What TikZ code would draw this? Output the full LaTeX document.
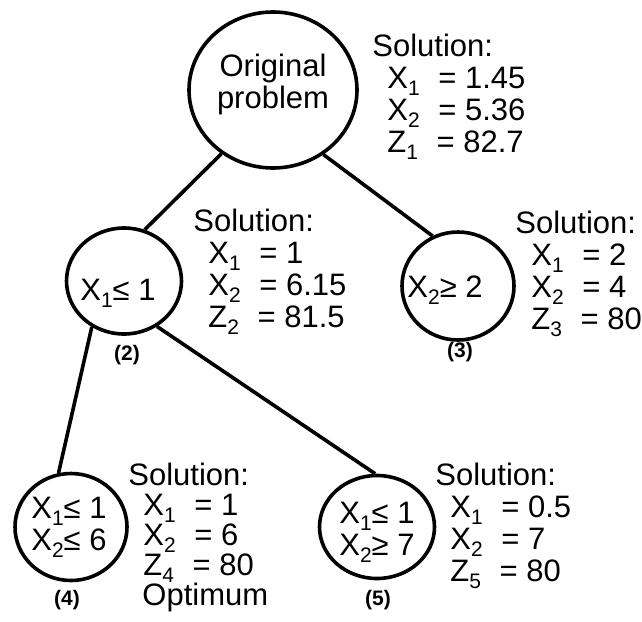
\documentclass[tikz,border=0pt]{standalone}
\usepackage{fontspec}
\setmainfont{Liberation Sans}
\usetikzlibrary{shapes.geometric}
\newcommand{\sbx}[1]{\raisebox{-3.5pt}{\fontsize{10.5}{10.5}\selectfont #1}}
\newcommand{\eqx}{\hspace{0.6em}=\ }
\begin{document}
\begin{tikzpicture}[x=0.5pt,y=-0.5pt,
  bubble/.style={draw,ellipse,line width=1.8pt,inner sep=0pt},
  txt/.style={font=\fontsize{15.5}{16}\selectfont,inner sep=0pt,align=center,anchor=base},
  sol/.style={font=\fontsize{15.5}{16}\selectfont,inner sep=0pt,align=left,anchor=base west},
  tag/.style={font=\fontsize{10.5}{10.5}\selectfont\bfseries,inner sep=0pt},
  edge/.style={line width=1.8pt}]
\useasboundingbox (0,0) rectangle (642,621);

% circles
\node[bubble,minimum width=84pt,minimum height=78pt] (root) at (273,90) {};
\node[bubble,minimum width=57.5pt,minimum height=53pt] (n2) at (124,281) {};
\node[bubble,minimum width=56pt,minimum height=54pt] (n3) at (458,286) {};
\node[bubble,minimum width=56pt,minimum height=53.5pt] (n4) at (71,527) {};
\node[bubble,minimum width=57.5pt,minimum height=51.5pt] (n5) at (377,527) {};

% circle texts (base = baseline of last line)
\node[txt] (roottxt) at (273,108) {Original\\problem};
\node[txt] (n2txt) at (118,300) {X\sbx{1}≤ 1};
\node[txt] (n3txt) at (445,297) {X\sbx{2}≥ 2};
\node[txt] (n4txt) at (69,550) {X\sbx{1}≤ 1\\X\sbx{2}≤ 6};
\node[txt] (n5txt) at (377,555) {X\sbx{1}≤ 1\\X\sbx{2}≥ 7};

% tags
\node[tag] (t2) at (127,355) {(2)};
\node[tag] (t3) at (460,352) {(3)};
\node[tag] (t4) at (67,600) {(4)};
\node[tag] (t5) at (378,600) {(5)};

% connectors
\draw[edge] (root.231) -- (n2.68);
\draw[edge] (root.308) -- (n3.117);
\draw[edge] (n2.235) -- (n4.103);
\draw[edge] (n2.306) -- (n5.92);

% solutions (base = baseline of last line)
\node[sol] (s1) at (372,152) {Solution:\\\hspace*{7.5pt}X\sbx{1}\eqx 1.45\\\hspace*{7.5pt}X\sbx{2}\eqx 5.36\\\hspace*{7.5pt}Z\sbx{1}\eqx 82.7};
\node[sol] (s2) at (193,327) {Solution:\\\hspace*{7.5pt}X\sbx{1}\eqx 1\\\hspace*{7.5pt}X\sbx{2}\eqx 6.15\\\hspace*{7.5pt}Z\sbx{2}\eqx 81.5};
\node[sol] (s3) at (515,329) {Solution:\\\hspace*{8pt}X\sbx{1}\eqx 2\\\hspace*{8pt}X\sbx{2}\eqx 4\\\hspace*{8pt}Z\sbx{3}\eqx 80};
\node[sol,font=\fontsize{15.5}{15}\selectfont] (s4) at (128,605) {Solution:\\\hspace*{7.5pt}X\sbx{1}\eqx 1\\\hspace*{7.5pt}X\sbx{2}\eqx 6\\\hspace*{7.5pt}Z\sbx{4}\eqx 80\\\hspace*{7pt}Optimum};
\node[sol] (s5) at (435,581) {Solution:\\\hspace*{7.5pt}X\sbx{1}\eqx 0.5\\\hspace*{7.5pt}X\sbx{2}\eqx 7\\\hspace*{7.5pt}Z\sbx{5}\eqx 80};
\end{tikzpicture}
\end{document}
